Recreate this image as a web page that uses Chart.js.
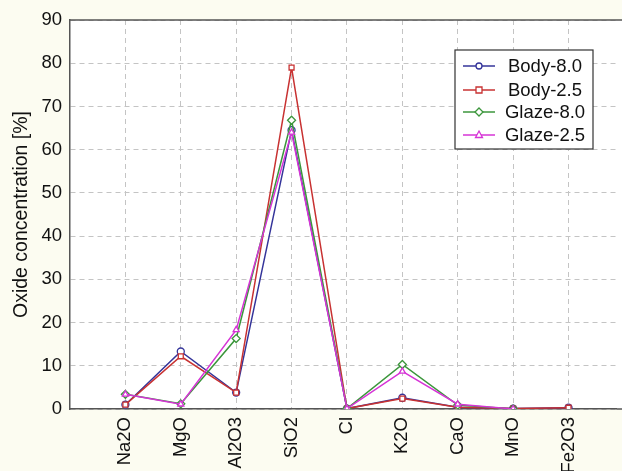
<!DOCTYPE html>
<html>
<head>
<meta charset="utf-8">
<script src="https://cdn.jsdelivr.net/npm/chart.js@4/dist/chart.umd.min.js"></script>
<style>
  html, body { margin: 0; padding: 0; background: #fcfcf1; }
  #wrap { width: 622px; height: 471px; }
</style>
</head>
<body>
<div id="wrap"><canvas id="oxideChart" width="622" height="471"></canvas></div>
<script>
const oxides = ['Na2O', 'MgO', 'Al2O3', 'SiO2', 'Cl', 'K2O', 'CaO', 'MnO', 'Fe2O3'];
const body80 = [1.0, 13.3, 3.8, 64.5, 0.1, 2.6, 0.4, 0.1, 0.3];
const body25 = [1.0, 12.2, 3.8, 79.0, 0.1, 2.4, 0.4, 0.1, 0.3];
const glaze80 = [3.4, 1.2, 16.3, 66.8, 0.1, 10.3, 0.9, 0, null];
const glaze25 = [3.4, 1.1, 18.3, 64.0, 0.1, 8.7, 1.1, 0, null];
const yTicks = [0, 10, 20, 30, 40, 50, 60, 70, 80, 90];

const fontName = "'Liberation Sans', Arial, sans-serif";

function toPoints(vals) {
    return vals.map((v, i) => ({ x: i + 1, y: v }));
}

function makeSet(label, vals, color, style, order) {
    return {
        label: label,
        data: toPoints(vals),
        borderColor: color,
        backgroundColor: '#ffffff',
        borderWidth: 1.5,
        pointStyle: style,
        pointRadius: style === 'rectRot' ? 4 : 3.5,
        pointBorderWidth: 1.3,
        pointBorderColor: color,
        pointBackgroundColor: '#ffffff',
        tension: 0,
        spanGaps: false,
        order: order
    };
}

// cream page, white plot area (runs to the right edge), top frame line
const frame = {
    id: 'frame',
    beforeDraw(chart) {
        const c = chart.ctx, a = chart.chartArea;
        c.save();
        c.fillStyle = '#fcfcf1';
        c.fillRect(0, 0, chart.width, chart.height);
        c.fillStyle = '#ffffff';
        c.fillRect(a.left, a.top, chart.width - a.left, a.bottom - a.top);
        c.restore();
    },
    afterDraw(chart) {
        const c = chart.ctx, a = chart.chartArea;
        c.save();
        c.strokeStyle = '#555555';
        c.lineWidth = 1.5;
        c.beginPath();
        c.moveTo(a.left, a.top);
        c.lineTo(chart.width, a.top);
        c.moveTo(a.right, a.bottom);
        c.lineTo(chart.width, a.bottom);
        c.stroke();
        c.restore();
    }
};

// legend with line + marker, boxed
const boxLegend = {
    id: 'boxLegend',
    afterDraw(chart) {
        const c = chart.ctx;
        const x0 = 455, y0 = 50, w = 138, h = 99;
        const rows = [66, 90, 112, 135];
        c.save();
        c.fillStyle = '#ffffff';
        c.fillRect(x0, y0, w, h);
        c.strokeStyle = '#333333';
        c.lineWidth = 1.2;
        c.strokeRect(x0, y0, w, h);
        c.font = '18.5px ' + fontName;
        c.textAlign = 'center';
        c.textBaseline = 'middle';
        chart.data.datasets.forEach((ds, i) => {
            const y = rows[i];
            c.strokeStyle = ds.borderColor;
            c.lineWidth = 1.5;
            c.beginPath();
            c.moveTo(463, y);
            c.lineTo(495, y);
            c.stroke();
            c.fillStyle = '#ffffff';
            c.lineWidth = 1.3;
            c.beginPath();
            const mx = 479;
            if (ds.pointStyle === 'circle') {
                c.arc(mx, y, 3, 0, Math.PI * 2);
            } else if (ds.pointStyle === 'rect') {
                c.rect(mx - 3, y - 3, 6, 6);
            } else if (ds.pointStyle === 'rectRot') {
                c.moveTo(mx, y - 4); c.lineTo(mx + 4, y); c.lineTo(mx, y + 4); c.lineTo(mx - 4, y); c.closePath();
            } else {
                c.moveTo(mx, y - 4); c.lineTo(mx + 3.5, y + 2.5); c.lineTo(mx - 3.5, y + 2.5); c.closePath();
            }
            c.fill();
            c.stroke();
            c.fillStyle = '#111111';
            c.fillText(ds.label, 545, y + 1);
        });
        c.restore();
    }
};

const ctx = document.getElementById('oxideChart').getContext('2d');
const oxideChart = new Chart(ctx, {
    type: 'line',
    data: {
        datasets: [
            makeSet('Body-8.0', body80, '#34349a', 'circle', 4),
            makeSet('Body-2.5', body25, '#c83232', 'rect', 3),
            makeSet('Glaze-8.0', glaze80, '#3c963c', 'rectRot', 2),
            makeSet('Glaze-2.5', glaze25, '#d634d6', 'triangle', 1)
        ]
    },
    options: {
        responsive: false,
        animation: false,
        layout: { padding: { top: 20, left: 0, right: 0, bottom: 0 } },
        plugins: {
            legend: { display: false },
            tooltip: { enabled: false }
        },
        scales: {
            x: {
                type: 'linear',
                min: 0,
                max: 9.87,
                afterFit: scale => { scale.height = 62; },
                afterBuildTicks: scale => {
                    scale.ticks = oxides.map((o, i) => ({ value: i + 1 }));
                },
                ticks: {
                    autoSkip: false,
                    minRotation: 90,
                    maxRotation: 90,
                    padding: 8,
                    color: '#111111',
                    font: { family: fontName, size: 18.5 },
                    callback: v => oxides[v - 1] || ''
                },
                grid: { color: '#c4c4c4', drawTicks: false, lineWidth: 1 },
                border: { color: '#555555', width: 1.5, dash: [5, 4] }
            },
            y: {
                min: 0,
                max: 90,
                afterFit: scale => { scale.width = 70; },
                afterBuildTicks: scale => {
                    scale.ticks = yTicks.map(v => ({ value: v }));
                },
                ticks: {
                    padding: 8,
                    color: '#111111',
                    font: { family: fontName, size: 18.5 }
                },
                grid: { color: '#c4c4c4', drawTicks: false, lineWidth: 1 },
                border: { color: '#555555', width: 1.5, dash: [5, 4] },
                title: {
                    display: true,
                    text: 'Oxide concentration [%]',
                    color: '#111111',
                    font: { family: fontName, size: 19.5 },
                    padding: { top: 10, bottom: 0 }
                }
            }
        }
    },
    plugins: [frame, boxLegend]
});
</script>
</body>
</html>
